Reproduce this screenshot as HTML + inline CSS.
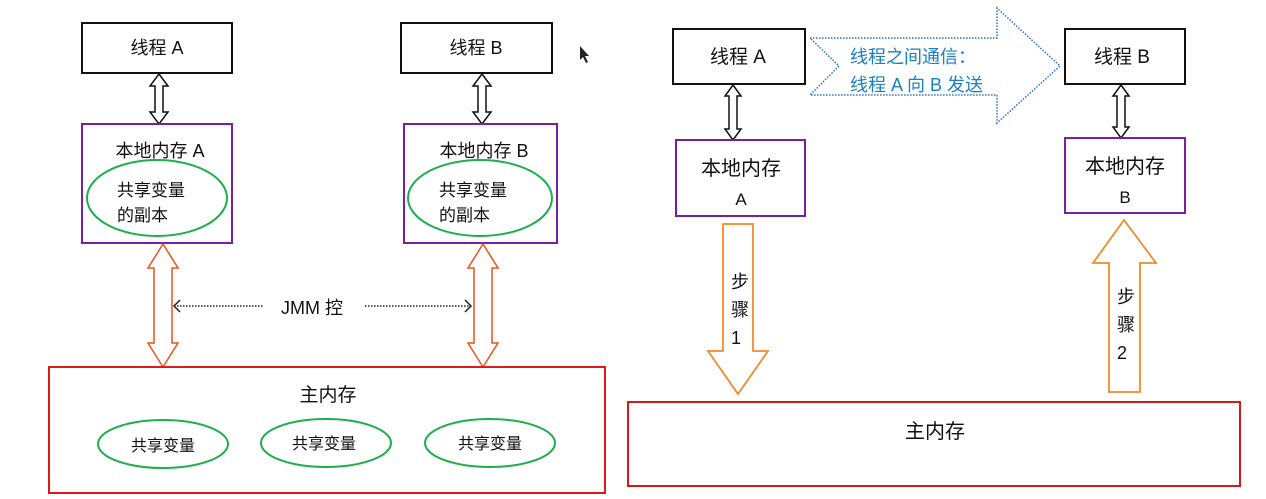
<!DOCTYPE html>
<html><head><meta charset="utf-8"><style>
html,body{margin:0;padding:0;background:#fff;}
svg{display:block}
text{font-family:"Liberation Sans","Noto Sans CJK SC",sans-serif;fill:#111;}
</style></head><body>
<svg width="1266" height="499" viewBox="0 0 1266 499" xmlns="http://www.w3.org/2000/svg">
<!-- LEFT -->
<rect x="82" y="23" width="150" height="50" fill="#fff" stroke="#111" stroke-width="2"/>
<text x="157" y="54" font-size="18" text-anchor="middle">线程 A</text>
<rect x="401" y="23" width="151" height="50" fill="#fff" stroke="#111" stroke-width="2"/>
<text x="476" y="54" font-size="18" text-anchor="middle">线程 B</text>
<path d="M580,46 l0,14 l3,-3 l3,6 l2,-1 l-3,-6 l4,0 z" fill="#222"/>
<path d="M159,74 l9,12 h-5 v26 h5 l-9,12 l-9,-12 h5 v-26 h-5 z" fill="#fff" stroke="#111" stroke-width="1.5"/>
<path d="M482,74 l9,12 h-5 v26 h5 l-9,12 l-9,-12 h5 v-26 h-5 z" fill="#fff" stroke="#111" stroke-width="1.5"/>
<rect x="82" y="124" width="150" height="119" fill="#fff" stroke="#7a1fa2" stroke-width="2"/>
<text x="160" y="157" font-size="18" text-anchor="middle">本地内存 A</text>
<ellipse cx="157" cy="198" rx="70" ry="38" fill="none" stroke="#1fae4c" stroke-width="2"/>
<text x="117" y="196" font-size="17">共享变量</text>
<text x="117" y="221" font-size="17">的副本</text>
<rect x="404" y="124" width="153" height="119" fill="#fff" stroke="#7a1fa2" stroke-width="2"/>
<text x="484" y="157" font-size="18" text-anchor="middle">本地内存 B</text>
<ellipse cx="480" cy="198" rx="72" ry="38" fill="none" stroke="#1fae4c" stroke-width="2"/>
<text x="439" y="196" font-size="17">共享变量</text>
<text x="439" y="221" font-size="17">的副本</text>
<path d="M163,244 l15,24 h-6 v75 h6 l-15,24 l-15,-24 h6 v-75 h-6 z" fill="#fff" stroke="#e8541a" stroke-width="1.5"/>
<path d="M483,244 l15,24 h-6 v75 h6 l-15,24 l-15,-24 h6 v-75 h-6 z" fill="#fff" stroke="#e8541a" stroke-width="1.5"/>
<line x1="174" y1="306" x2="263" y2="306" stroke="#222" stroke-width="1.5" stroke-dasharray="1.5,1.5"/>
<path d="M180,300 l-6,6 l6,6" fill="none" stroke="#222" stroke-width="1.5"/>
<line x1="365" y1="306" x2="471" y2="306" stroke="#222" stroke-width="1.5" stroke-dasharray="1.5,1.5"/>
<path d="M465,300 l6,6 l-6,6" fill="none" stroke="#222" stroke-width="1.5"/>
<text x="312" y="314" font-size="18" text-anchor="middle">JMM 控</text>
<rect x="49" y="367" width="556" height="126" fill="#fff" stroke="#e01818" stroke-width="2"/>
<text x="328" y="401" font-size="19" text-anchor="middle">主内存</text>
<ellipse cx="163" cy="444" rx="65" ry="24" fill="none" stroke="#1fae4c" stroke-width="2"/>
<text x="163" y="451" font-size="16" text-anchor="middle">共享变量</text>
<ellipse cx="326" cy="443" rx="65" ry="24" fill="none" stroke="#1fae4c" stroke-width="2"/>
<text x="324" y="449" font-size="16" text-anchor="middle">共享变量</text>
<ellipse cx="490" cy="443" rx="65" ry="24" fill="none" stroke="#1fae4c" stroke-width="2"/>
<text x="490" y="449" font-size="16" text-anchor="middle">共享变量</text>

<!-- RIGHT -->
<rect x="673" y="29" width="132" height="55" fill="#fff" stroke="#111" stroke-width="2"/>
<text x="738" y="63" font-size="19" text-anchor="middle">线程 A</text>
<rect x="1065" y="29" width="120" height="55" fill="#fff" stroke="#111" stroke-width="2"/>
<text x="1122" y="63" font-size="19" text-anchor="middle">线程 B</text>
<path d="M810,38 H997 V8 L1060,66 L997,123 V95 H810 L839,66 Z" fill="none" stroke="#2d6fd6" stroke-width="1.5" stroke-dasharray="1.5,1.5"/>
<text x="850" y="63" font-size="18" style="fill:#1a80c4">线程之间通信：</text>
<text x="850" y="91" font-size="18" style="fill:#1a80c4">线程 A 向 B 发送</text>
<path d="M733,85 l8,11 h-4 v33 h4 l-8,11 l-8,-11 h4 v-33 h-4 z" fill="#fff" stroke="#111" stroke-width="1.5"/>
<path d="M1121,85 l8,11 h-4 v31 h4 l-8,11 l-8,-11 h4 v-31 h-4 z" fill="#fff" stroke="#111" stroke-width="1.5"/>
<rect x="676" y="140" width="129" height="76" fill="#fff" stroke="#7a1fa2" stroke-width="2"/>
<text x="741" y="175" font-size="20" text-anchor="middle">本地内存</text>
<text x="741" y="205" font-size="17" text-anchor="middle">A</text>
<rect x="1065" y="138" width="120" height="75" fill="#fff" stroke="#7a1fa2" stroke-width="2"/>
<text x="1125" y="173" font-size="20" text-anchor="middle">本地内存</text>
<text x="1125" y="203" font-size="17" text-anchor="middle">B</text>
<path d="M723,224 H753 V351 H768 L738,394 L708,351 H723 Z" fill="#fff" stroke="#f08a2a" stroke-width="1.8"/>
<text x="740" y="288" font-size="18" text-anchor="middle">步</text>
<text x="740" y="316" font-size="18" text-anchor="middle">骤</text>
<text x="736" y="344" font-size="18" text-anchor="middle">1</text>
<path d="M1109,392 H1140 V263 H1156 L1124,220 L1093,263 H1109 Z" fill="#fff" stroke="#f08a2a" stroke-width="1.8"/>
<text x="1126" y="303" font-size="18" text-anchor="middle">步</text>
<text x="1126" y="331" font-size="18" text-anchor="middle">骤</text>
<text x="1122" y="359" font-size="18" text-anchor="middle">2</text>
<rect x="628" y="402" width="612" height="84" fill="#fff" stroke="#d81818" stroke-width="2"/>
<text x="935" y="438" font-size="20" text-anchor="middle">主内存</text>
</svg>
</body></html>
